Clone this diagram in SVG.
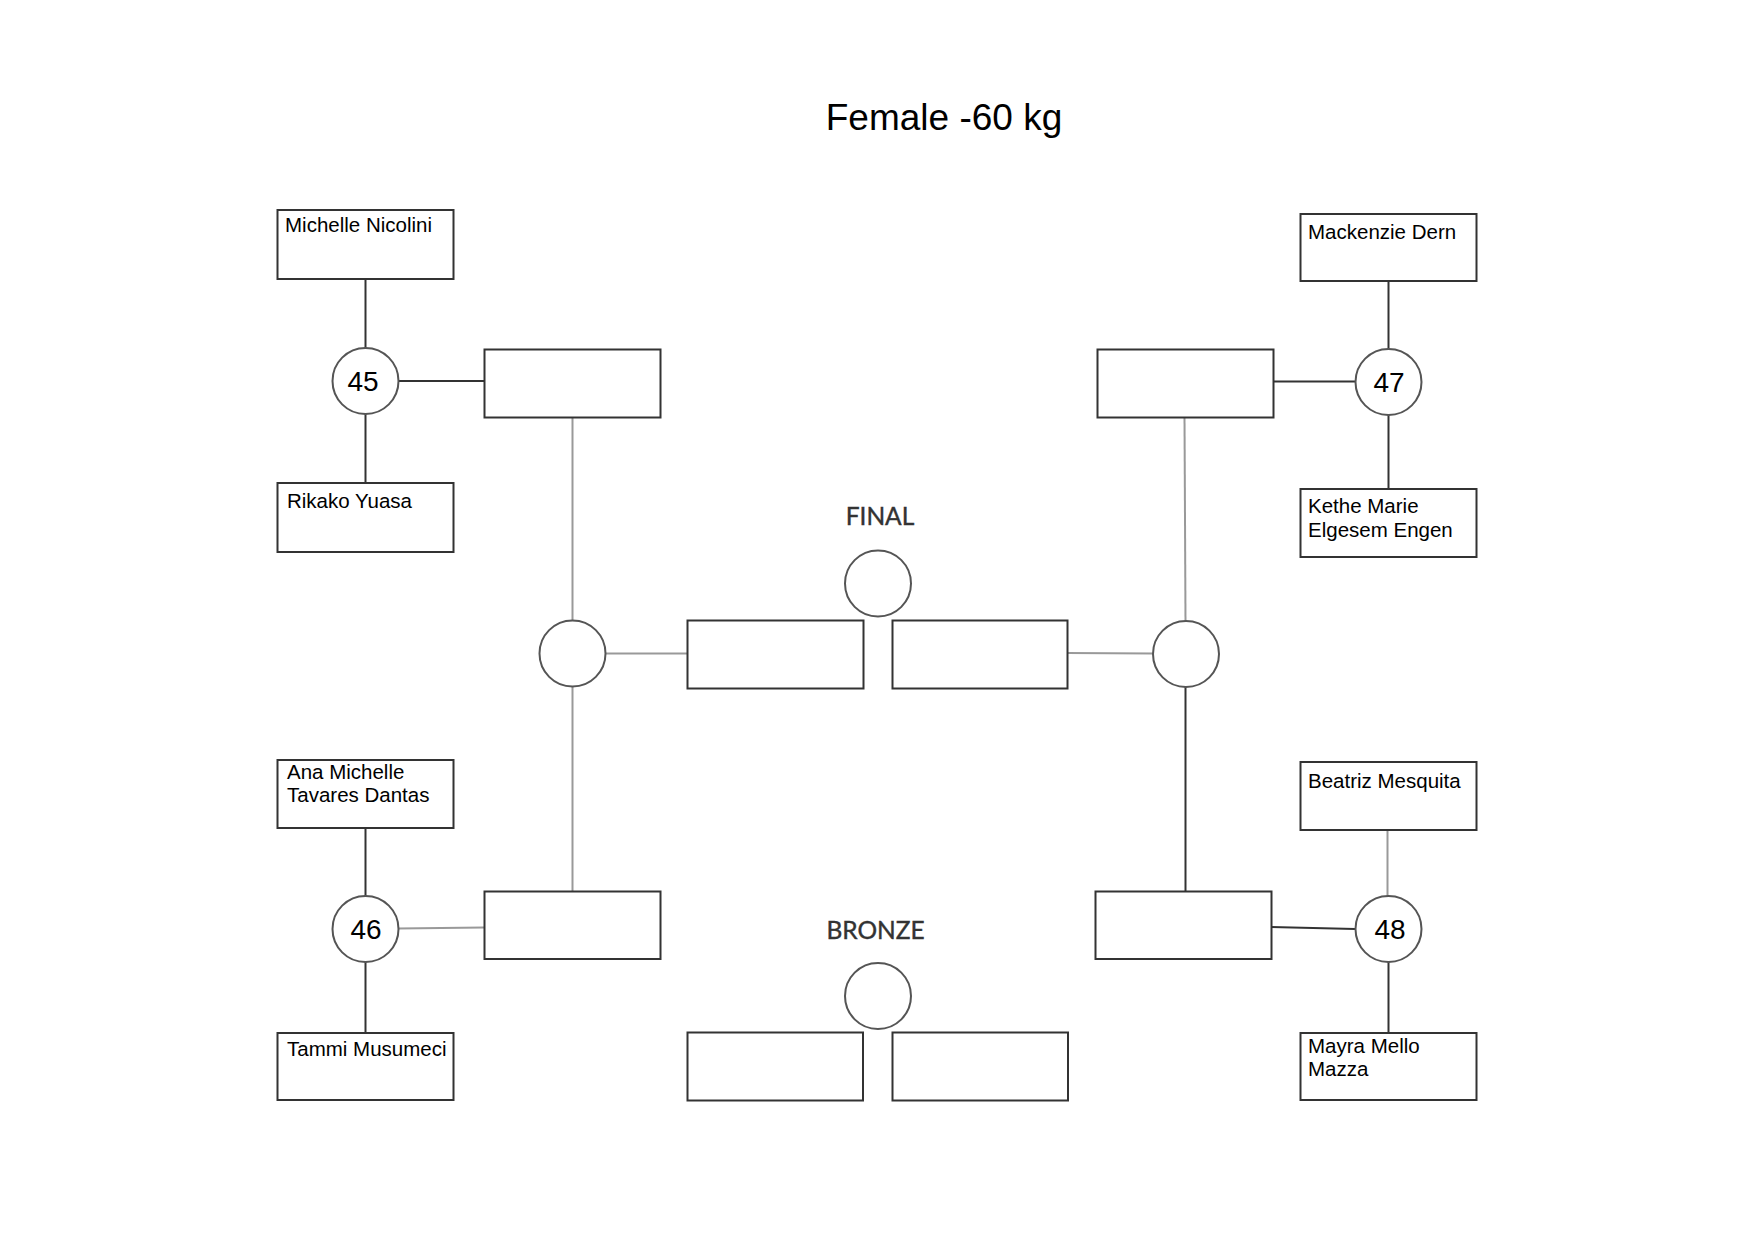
<svg xmlns="http://www.w3.org/2000/svg" width="1754" height="1239" viewBox="0 0 1754 1239">
<style>
.box{fill:#fff;stroke:#333;stroke-width:2}
.circ{fill:#fff;stroke:#555;stroke-width:2}
.dk{stroke:#333;stroke-width:2;fill:none}
.gr{stroke:#999;stroke-width:2;fill:none}
.name{font-family:"Liberation Sans",Arial,sans-serif;font-size:20.5px;fill:#000}
.num{font-family:"Liberation Sans",Arial,sans-serif;font-size:28px;fill:#000;text-anchor:middle}
.lbl{font-family:Lato,"Open Sans",sans-serif;font-size:24.5px;fill:#333;text-anchor:middle;stroke:#333;stroke-width:0.4}
.title{font-family:"Liberation Sans",Arial,sans-serif;font-size:37px;fill:#000;text-anchor:middle}
</style>
<rect width="1754" height="1239" fill="#fff"/>
<text class="title" x="944" y="130">Female -60 kg</text>
<g id="connectors">
<line class="dk" x1="365.5" y1="279" x2="365.5" y2="348"/>
<line class="dk" x1="365.5" y1="414" x2="365.5" y2="483"/>
<line class="dk" x1="398" y1="381" x2="484" y2="381"/>
<line class="gr" x1="572.5" y1="417" x2="572.5" y2="620"/>
<line class="gr" x1="572.5" y1="687" x2="572.5" y2="891"/>
<line class="dk" x1="365.5" y1="828" x2="365.5" y2="896"/>
<line class="dk" x1="365.5" y1="962" x2="365.5" y2="1033"/>
<line class="gr" x1="398" y1="928.5" x2="484" y2="927.5"/>
<line class="gr" x1="606" y1="653.5" x2="687" y2="653.5"/>
<line class="dk" x1="1388.5" y1="281" x2="1388.5" y2="349"/>
<line class="dk" x1="1388.5" y1="415" x2="1388.5" y2="489"/>
<line class="dk" x1="1273" y1="381.5" x2="1355" y2="381.5"/>
<line class="gr" x1="1184.5" y1="417" x2="1185.5" y2="621"/>
<line class="dk" x1="1185.5" y1="687" x2="1185.5" y2="891"/>
<line class="gr" x1="1067" y1="653" x2="1153" y2="653.5"/>
<line class="gr" x1="1387.5" y1="830" x2="1387.5" y2="896"/>
<line class="dk" x1="1388.5" y1="962" x2="1388.5" y2="1033"/>
<line class="dk" x1="1271" y1="927" x2="1355" y2="929"/>
</g>
<g id="n-nicolini"><rect class="box" x="277.5" y="210" width="176" height="69"/><text class="name" x="285" y="232">Michelle Nicolini</text></g>
<g id="n-yuasa"><rect class="box" x="277.5" y="483" width="176" height="69"/><text class="name" x="287" y="508">Rikako Yuasa</text></g>
<g id="c45"><circle class="circ" cx="365.5" cy="381" r="33"/><text class="num" x="363" y="391">45</text></g>
<g id="w45"><rect class="box" x="484.5" y="349.5" width="176" height="68"/></g>
<g id="n-dantas"><rect class="box" x="277.5" y="760" width="176" height="68"/><text class="name" x="287" y="779">Ana Michelle</text><text class="name" x="287" y="802">Tavares Dantas</text></g>
<g id="n-musumeci"><rect class="box" x="277.5" y="1033" width="176" height="67"/><text class="name" x="287" y="1056">Tammi Musumeci</text></g>
<g id="c46"><circle class="circ" cx="365.5" cy="929" r="33"/><text class="num" x="366" y="939">46</text></g>
<g id="w46"><rect class="box" x="484.5" y="891.5" width="176" height="67.5"/></g>
<g id="sf-left"><circle class="circ" cx="572.5" cy="653.5" r="33"/></g>
<g id="n-dern"><rect class="box" x="1300.5" y="214" width="176" height="67"/><text class="name" x="1308" y="239">Mackenzie Dern</text></g>
<g id="n-engen"><rect class="box" x="1300.5" y="489" width="176" height="68"/><text class="name" x="1308" y="513">Kethe Marie</text><text class="name" x="1308" y="537">Elgesem Engen</text></g>
<g id="c47"><circle class="circ" cx="1388.5" cy="382" r="33"/><text class="num" x="1389" y="392">47</text></g>
<g id="w47"><rect class="box" x="1097.5" y="349.5" width="176" height="68"/></g>
<g id="n-mesquita"><rect class="box" x="1300.5" y="762" width="176" height="68"/><text class="name" x="1308" y="788">Beatriz Mesquita</text></g>
<g id="n-mazza"><rect class="box" x="1300.5" y="1033" width="176" height="67"/><text class="name" x="1308" y="1053">Mayra Mello</text><text class="name" x="1308" y="1076">Mazza</text></g>
<g id="c48"><circle class="circ" cx="1388.5" cy="929" r="33"/><text class="num" x="1390" y="939">48</text></g>
<g id="w48"><rect class="box" x="1095.5" y="891.5" width="176" height="67.5"/></g>
<g id="sf-right"><circle class="circ" cx="1186" cy="654" r="33"/></g>
<g id="final">
<text class="lbl" x="880" y="525">FINAL</text>
<circle class="circ" cx="878" cy="583.5" r="33"/>
<rect class="box" x="687.5" y="620.5" width="176" height="68"/>
<rect class="box" x="892.5" y="620.5" width="175" height="68"/>
</g>
<g id="bronze">
<text class="lbl" x="875.5" y="939">BRONZE</text>
<circle class="circ" cx="878" cy="996" r="33"/>
<rect class="box" x="687.5" y="1032.5" width="175.5" height="68"/>
<rect class="box" x="892.5" y="1032.5" width="175.5" height="68"/>
</g>
</svg>
